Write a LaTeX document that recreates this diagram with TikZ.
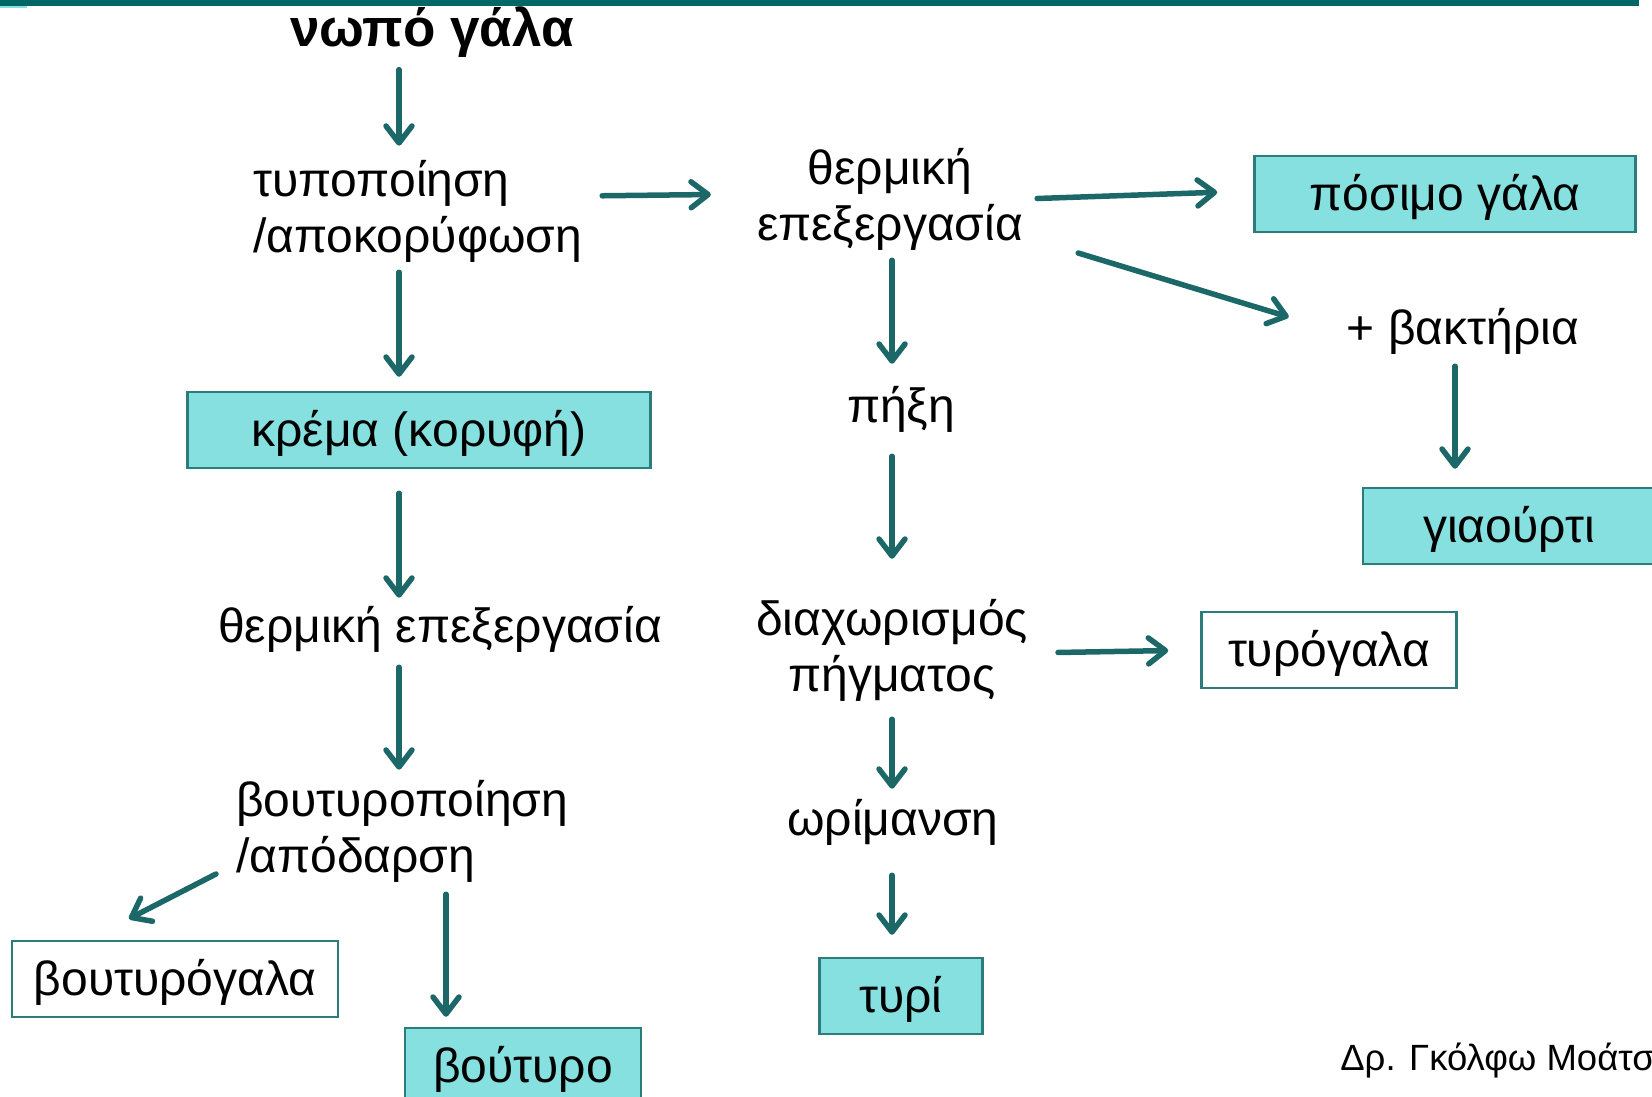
\documentclass[tikz,border=0pt]{standalone}
\usepackage{fontspec}
\setmainfont{Liberation Sans}
\usetikzlibrary{arrows.meta}
\definecolor{barteal}{RGB}{0,102,102}
\definecolor{arrteal}{RGB}{28,104,104}
\definecolor{boxfill}{RGB}{134,224,224}
\definecolor{boxline}{RGB}{44,124,124}
\tikzset{
  stage/.style={inner sep=0pt, font=\fontsize{48}{56}\selectfont},
  product/.style={stage, draw=boxline, line width=2.5pt, fill=boxfill, minimum height=76pt,
    text height=38pt, text depth=5pt},
  byproduct/.style={product, fill=white},
  arr/.style={draw=arrteal, line width=5.5pt, line cap=round,
    -{Straight Barb[length=17pt, width=26pt, line width=5.5pt, round]}},
}
\begin{document}
\begin{tikzpicture}[x=1pt, y=-1pt]
			\useasboundingbox (0,0) rectangle (1652,1097);
			\clip (0,0) rectangle (1652,1097);
			\fill[barteal] (0,0) rectangle (1639,6);
			\fill[boxfill] (0,6) rectangle (27,8);
			% columns for the vertical arrows
			\coordinate (colA) at (399,0);
			\coordinate (colB) at (446,0);
			\coordinate (colC) at (892,0);
			\coordinate (colD) at (1455,0);
			% left branch
			\draw (432,32) node[inner sep=0pt, font=\fontsize{53}{58}\bfseries] (tit) {νωπό γάλα};
			\draw (253,211) node[stage, anchor=west, align=left] (typ) {τυποποίηση\\/αποκορύφωση};
			\draw (419,430) node[product, minimum width=463pt] (krema) {κρέμα (κορυφή)};
			\draw (440,629) node[stage] (therm) {θερμική επεξεργασία};
			\draw (236,831) node[stage, anchor=west, align=left] (vout) {βουτυροποίηση\\/απόδαρση};
			\draw (175,979) node[byproduct, minimum width=326pt] (voutgala) {βουτυρόγαλα};
			\draw (523,1066) node[product, minimum width=236pt] (voutyro) {βούτυρο};
			% middle branch
			\draw (890,199) node[stage, align=center] (thermb) {θερμική\\επεξεργασία};
			\draw (901,409) node[stage] (pixi) {πήξη};
			\draw (892,650) node[stage, align=center] (diax) {διαχωρισμός\\πήγματος};
			\draw (893,822) node[stage] (orim) {ωρίμανση};
			\draw (901,996) node[product, minimum width=163pt] (tyri) {τυρί};
			\draw (1329,650) node[byproduct, minimum width=255pt] (tyrogala) {τυρόγαλα};
			% right branch
			\draw (1445,194) node[product, minimum width=381pt] (posimo) {πόσιμο γάλα};
			\draw (1463,331) node[stage] (bakt) {+ βακτήρια};
			\draw (1509,526) node[product, minimum width=292pt] (giaourti) {γιαούρτι};
			\draw (1655,1061) node[inner sep=0pt, anchor=east, font=\fontsize{36.5}{40}\selectfont] (credit) {Δρ. Γκόλφω Μοάτσ};
			% arrows
			\draw[arr, shorten <=12pt, shorten >=14pt] (tit.south -| colA) -- (typ.north -| colA);
			\draw[arr, shorten <=10pt, shorten >=14pt] (typ.south -| colA) -- (krema.north -| colA);
			\draw[arr, shorten <=24pt, shorten >=8pt] (krema.south -| colA) -- (therm.north -| colA);
			\draw[arr, shorten <=15pt, shorten >=10pt] (therm.south -| colA) -- (vout.north -| colA);
			\draw[arr, shorten <=12pt, shorten >=10pt] (vout.south -| colB) -- (voutyro.north -| colB);
			\draw[arr] ([xshift=-20pt,yshift=-43pt]vout.west) -- ([xshift=-46pt,yshift=21pt]voutgala.north);
			\draw[arr, shorten <=20pt, shorten >=46pt] ([yshift=15pt]typ.east) -- ([yshift=5pt]thermb.west);
			\draw[arr, shorten <=14pt, shorten >=36pt] (thermb.east) -- ([yshift=3pt]posimo.west);
			\draw[arr, shorten <=10pt, shorten >=22pt] (thermb.south -| colC) -- (pixi.north -| colC);
			\draw[arr, shorten <=24pt, shorten >=40pt] (pixi.south -| colC) -- (diax.north -| colC);
			\draw[arr, shorten <=18pt, shorten >=10pt] (diax.south -| colC) -- (orim.north -| colC);
			\draw[arr, shorten <=30pt, shorten >=22pt] (orim.south -| colC) -- (tyri.north -| colC);
			\draw[arr, shorten <=30pt, shorten >=32pt] ([yshift=-3pt]diax.east) -- (tyrogala.west);
			\draw[arr] ([xshift=55pt,yshift=-54pt]thermb.east) -- ([xshift=-58pt,yshift=14pt]bakt.west);
			\draw[arr, shorten <=12pt, shorten >=18pt] (bakt.south -| colD) -- (giaourti.north -| colD);
\end{tikzpicture}
\end{document}
